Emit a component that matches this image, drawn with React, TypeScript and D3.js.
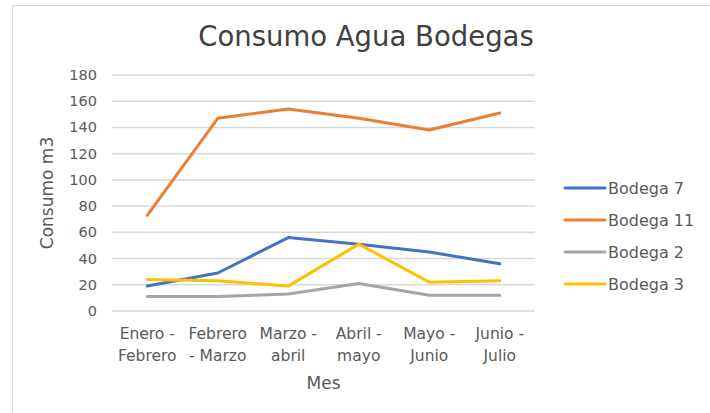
import React from 'react';
import * as d3 from 'd3';

const months = [
  ['Enero -', 'Febrero'],
  ['Febrero', '- Marzo'],
  ['Marzo -', 'abril'],
  ['Abril -', 'mayo'],
  ['Mayo -', 'Junio'],
  ['Junio -', 'Julio'],
];
const bodega7 = [19, 29, 56, 51, 45, 36];
const bodega11 = [73, 147, 154, 147, 138, 151];
const bodega2 = [11, 11, 13, 21, 12, 12];
const bodega3 = [24, 23, 19, 51, 22, 23];
const yTicks = [0, 20, 40, 60, 80, 100, 120, 140, 160, 180];

const series = [
  { name: 'Bodega 7', values: bodega7, color: '#4472C4' },
  { name: 'Bodega 11', values: bodega11, color: '#ED7D31' },
  { name: 'Bodega 2', values: bodega2, color: '#A5A5A5' },
  { name: 'Bodega 3', values: bodega3, color: '#FFC000' },
];

const font = "'DejaVu Sans', sans-serif";
const textColor = '#595959';

export default function App() {
  const W = 710, H = 413;
  const left = 112, right = 535, top = 75, bottom = 311;

  const x = d3.scaleBand<number>().domain(months.map((_, i) => i)).range([left, right]);
  const y = d3.scaleLinear().domain([0, 180]).range([bottom, top]);
  const cx = (i: number) => (x(i) as number) + x.bandwidth() / 2;

  const line = d3.line<number>().x((_, i) => cx(i)).y(v => y(v));

  return (
    <div style={{ position: 'absolute', left: 0, top: 0 }}>
      <svg width={W} height={H} style={{ display: 'block', background: '#fff' }}>
        <rect x={12.5} y={5.5} width={W + 20} height={H + 20} fill="#fff" stroke="#d9d9d9" strokeWidth={1} />
        <text x={366} y={46} textAnchor="middle" fontFamily={font} fontSize={27.5} fill="#404040">
          Consumo Agua Bodegas
        </text>
        {yTicks.map(t => (
          <g key={t}>
            <line x1={left} x2={right} y1={y(t)} y2={y(t)} stroke="#d9d9d9" strokeWidth={1.5} />
            <text x={97} y={y(t) + 5} textAnchor="end" fontFamily={font} fontSize={14.5} fill={textColor}>
              {t}
            </text>
          </g>
        ))}
        <text transform={`translate(53,${(top + bottom) / 2}) rotate(-90)`} textAnchor="middle"
          fontFamily={font} fontSize={17} fill={textColor}>
          Consumo m3
        </text>
        {months.map((m, i) => (
          <text key={i} x={cx(i)} textAnchor="middle" fontFamily={font} fontSize={15.5} fill={textColor}>
            <tspan x={cx(i)} y={339}>{m[0]}</tspan>
            <tspan x={cx(i)} y={361}>{m[1]}</tspan>
          </text>
        ))}
        <text x={(left + right) / 2} y={389} textAnchor="middle" fontFamily={font} fontSize={17} fill={textColor}>
          Mes
        </text>
        {series.map(s => (
          <path key={s.name} d={line(s.values) || ''} fill="none" stroke={s.color} strokeWidth={3}
            strokeLinejoin="round" strokeLinecap="round" />
        ))}
        {series.map((s, i) => {
          const ly = 188 + i * 32;
          return (
            <g key={s.name}>
              <line x1={565} x2={605} y1={ly} y2={ly} stroke={s.color} strokeWidth={3} strokeLinecap="round" />
              <text x={608} y={ly + 5.5} fontFamily={font} fontSize={16} fill={textColor}>{s.name}</text>
            </g>
          );
        })}
      </svg>
    </div>
  );
}
